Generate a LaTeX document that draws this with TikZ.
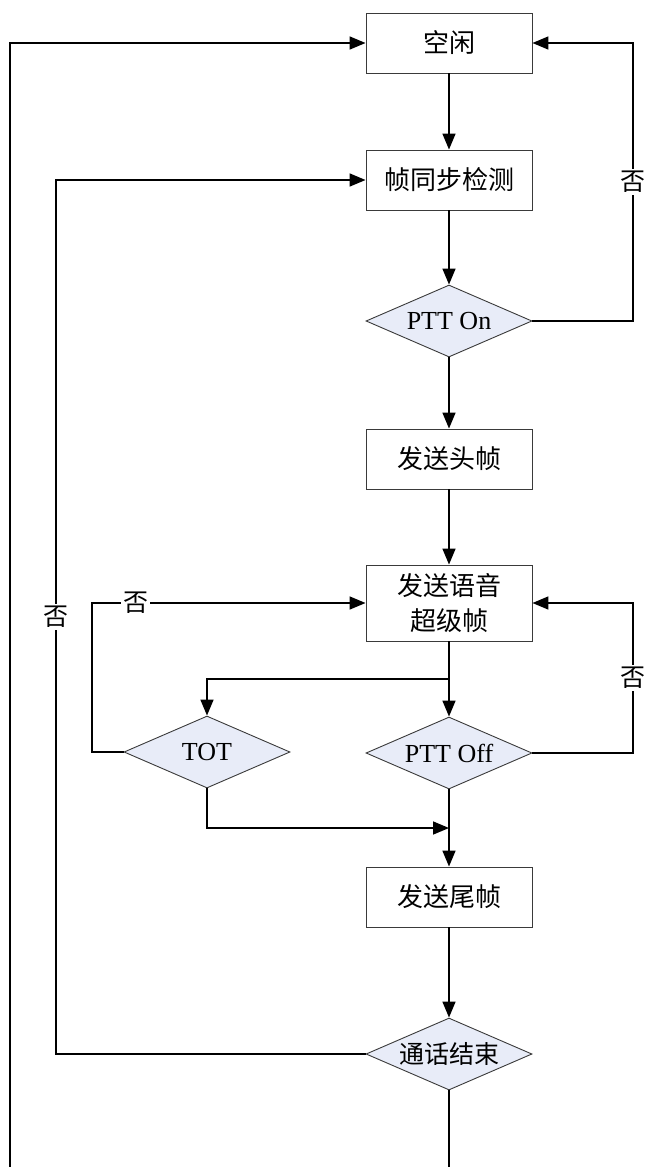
\documentclass[tikz,border=0pt]{standalone}
\usepackage{fontspec}
\setmainfont{Liberation Serif}
\newfontfamily\cjk{Noto Sans CJK SC}
\usetikzlibrary{shapes.geometric,arrows.meta}
\definecolor{decfill}{HTML}{E8ECF8}
\definecolor{boxline}{HTML}{3A3A3A}
\begin{document}
\begin{tikzpicture}[x=1pt,y=-1pt,
  proc/.style={draw=boxline, line width=0.9pt, fill=white,
    minimum width=166pt, minimum height=60pt, inner sep=0pt,
    font=\cjk\fontsize{26}{35}\selectfont, align=center},
  dec/.style={diamond, draw=boxline, line width=0.9pt, fill=decfill,
    minimum width=166pt, minimum height=72pt, inner sep=0pt, aspect=2.3},
  latin/.style={font=\fontsize{26}{30}\selectfont},
  cjktext/.style={font=\cjk\fontsize{25}{30}\selectfont},
  wire/.style={line width=1.6pt, black},
  conn/.style={wire, -{Triangle[length=16pt,width=13pt]}},
  lbl/.style={fill=white, inner sep=2pt, font=\cjk\fontsize{25}{25}\selectfont}]
  \useasboundingbox (0,0) rectangle (645,1167);

  % process boxes and decisions
  \node[proc] (idle)  at (449,43)  {空闲};
  \node[proc] (sync)  at (449,180) {帧同步检测};
  \node[dec,latin] (pttOn) at (449,321) {PTT On};
  \node[proc] (head)  at (449,459) {发送头帧};
  \node[proc, minimum height=76pt] (voice) at (449,603) {发送语音\\超级帧};
  \node[dec,latin] (tot)    at (207,752) {TOT};
  \node[dec,latin] (pttOff) at (449,753) {PTT Off};
  \node[proc] (tail)  at (449,897) {发送尾帧};
  \node[dec,cjktext] (endc) at (449,1054) {通话结束};

  % routing points
  \coordinate (split) at (449,679);
  \coordinate (merge) at (449,828);
  \coordinate (rOn)   at (633,321);
  \coordinate (rOff)  at (633,753);
  \coordinate (lTot)  at (92,752);
  \coordinate (lEnd)  at (56,1054);
  \coordinate (outer) at (10,1167);
  \coordinate (down)  at (449,1167);

  % main flow
  \draw[conn] (idle) -- (sync);
  \draw[conn] (sync) -- (pttOn);
  \draw[conn] (pttOn) -- (head);
  \draw[conn] (head) -- (voice);
  \draw[wire] (voice) -- (split);
  \draw[conn] (split) -- (pttOff);
  \draw[conn] (split) -| (tot);
  \draw[conn] (pttOff) -- (tail);
  \draw[conn] (tot.south) |- (merge);
  \draw[conn] (tail) -- (endc);
  \draw[wire] (endc) -- (down);

  % feedback loops
  \draw[conn] (pttOn.east) -- (rOn) |- node[lbl,pos=0.25] {否} (idle.east);
  \draw[conn] (pttOff.east) -- (rOff) |- node[lbl,pos=0.25] {否} (voice.east);
  \draw[conn] (tot.west) -- (lTot) |- node[lbl,pos=0.58] {否} (voice.west);
  \draw[conn] (endc.west) -- (lEnd) |- node[lbl,pos=0.25] {否} (sync.west);
  \draw[conn] (outer) |- (idle.west);
\end{tikzpicture}
\end{document}
